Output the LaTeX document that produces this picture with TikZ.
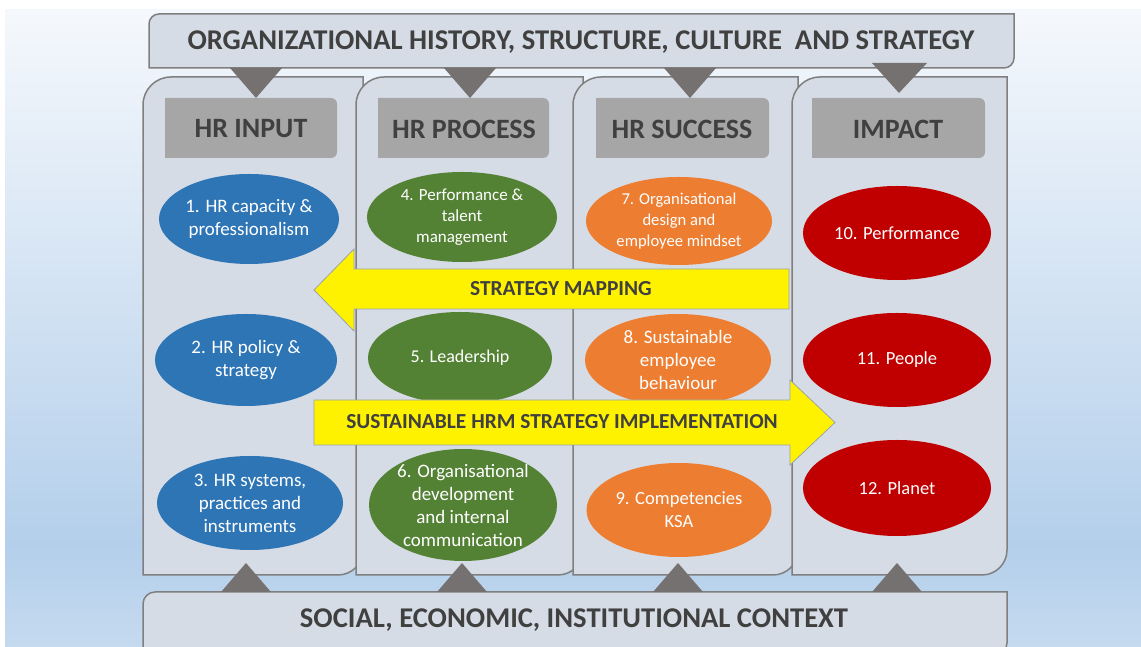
\documentclass[tikz,border=0pt]{standalone}
\usepackage{fontspec}
\setmainfont{Carlito}
\usetikzlibrary{shapes.geometric}

\definecolor{bgtop}{HTML}{F5F8FC}
\definecolor{bgmid}{HTML}{B4CFEB}
\definecolor{bgbot}{HTML}{C5DAEF}
\definecolor{panel}{HTML}{D6DCE5}
\definecolor{edge}{HTML}{7F7F7F}
\definecolor{headfill}{HTML}{A6A6A6}
\definecolor{inktext}{HTML}{404040}
\definecolor{tri}{HTML}{767171}
\definecolor{hrblue}{HTML}{2E75B6}
\definecolor{hrgreen}{HTML}{548235}
\definecolor{hrorange}{HTML}{ED7D31}
\definecolor{hrred}{HTML}{C00000}
\definecolor{arrowedge}{HTML}{9AA3AC}

\pgfdeclareverticalshading{slidebg}{100bp}{color(0bp)=(bgbot); color(25bp)=(bgbot); color(33bp)=(bgmid); color(75bp)=(bgtop); color(100bp)=(bgtop)}

\begin{document}
\begin{tikzpicture}[x=1pt,y=1pt,
  panelbox/.style={fill=panel, draw=edge, line width=1.5pt},
  headbox/.style={fill=headfill},
  headtext/.style={text=inktext, font=\fontsize{28}{32}\selectfont\bfseries, inner sep=0pt},
  bannertext/.style={text=inktext, font=\fontsize{28.6}{32}\selectfont\bfseries, inner sep=0pt},
  pointer/.style={fill=tri},
  oval/.style={ellipse, inner sep=-18pt, text=white, align=center,
    font=\fontsize{19}{23}\selectfont},
  fs/.style 2 args={font=\fontsize{#1}{#2}\selectfont},
  yarrow/.style={fill=yellow, draw=arrowedge, line width=0.8pt, line join=miter},
  arrowtext/.style={text=inktext, font=\fontsize{21.4}{25}\selectfont\bfseries, inner sep=0pt}
]
\useasboundingbox (0,0) rectangle (1141,647);
\clip (0,0) rectangle (1141,647);

% slide background
\fill[white] (0,0) rectangle (1141,647);
\shade[shading=slidebg] (5,0) rectangle (1141,637);

% four columns, each overlapping the one to its left
\foreach \xa/\xb in {143/363, 356/583, 573/798, 792/1007}
  \draw[panelbox] (\xa,72) -- (\xa,542) arc[start angle=180, end angle=90, radius=28]
    -- (\xb,570) -- (\xb,97) arc[start angle=0, end angle=-90, radius=25] -- cycle;

% context banners
\draw[panelbox] (149,579) -- (149,623) arc[start angle=180, end angle=90, radius=10]
  -- (1014,633) -- (1014,589) arc[start angle=0, end angle=-90, radius=10] -- cycle;
\node[bannertext] (org) at (581,605) {ORGANIZATIONAL HISTORY, STRUCTURE, CULTURE \ AND STRATEGY};

\draw[panelbox] (143,-8) -- (143,43) arc[start angle=180, end angle=90, radius=12]
  -- (1007,55) -- (1007,4) arc[start angle=0, end angle=-90, radius=12] -- cycle;
\node[bannertext] (ctx) at (574,27) {SOCIAL, ECONOMIC, INSTITUTIONAL CONTEXT};

% column headers
\foreach \xa/\xb in {165/337, 378/549, 596/769, 812/985}
  \fill[headbox] (\xa,489) -- (\xa,549) -- ({\xb-6},549) arc[start angle=90, end angle=0, radius=6]
    -- (\xb,495) arc[start angle=0, end angle=-90, radius=6] -- cycle;
\node[headtext] (h1) at (251,518) {HR INPUT};
\node[headtext] (h2) at (464,518) {HR PROCESS};
\node[headtext] (h3) at (682,518) {HR SUCCESS};
\node[headtext] (h4) at (898,518) {IMPACT};

% pointers from the banners into the columns
\foreach \cx in {256, 470, 690}
  \fill[pointer] ({\cx-26},579) -- ({\cx+26},579) -- (\cx,549) -- cycle;
\fill[pointer] (872,584) -- (927,584) -- (899,554) -- cycle;
\foreach \cx in {246, 462, 678, 897}
  \fill[pointer] ({\cx-25},55) -- ({\cx+25},55) -- (\cx,84) -- cycle;

% HR input
\node[oval, fill=hrblue, minimum width=180pt, minimum height=90pt] (e1) at (249,428) {1. HR capacity \&\\professionalism};
\node[oval, fill=hrblue, minimum width=182pt, minimum height=92pt] (e2) at (246,287) {2. HR policy \&\\strategy};
\node[oval, fill=hrblue, minimum width=186pt, minimum height=94pt] (e3) at (250,144) {3. HR systems,\\practices and\\instruments};

% HR process
\node[oval, fill=hrgreen, fs={17}{21}, minimum width=190pt, minimum height=90pt] (e4) at (462,430) {4. Performance \&\\talent\\management};
\node[oval, fill=hrgreen, fs={18}{22}, minimum width=184pt, minimum height=92pt] (e5) at (460,289) {5. Leadership};
\node[oval, fill=hrgreen, minimum width=188pt, minimum height=112pt] (e6) at (463,142) {6. Organisational\\development\\and internal\\communication};

% HR success
\node[oval, fill=hrorange, fs={16.6}{21}, minimum width=186pt, minimum height=88pt] (e7) at (679,426) {7. Organisational\\design and\\employee mindset};
\node[oval, fill=hrorange, minimum width=186pt, minimum height=92pt] (e8) at (678,287) {8. Sustainable\\employee\\behaviour};
\node[oval, fill=hrorange, fs={18.6}{23}, minimum width=185pt, minimum height=94pt] (e9) at (679,137) {9. Competencies\\KSA};

% impact
\node[oval, fill=hrred, fs={18.5}{22}, minimum width=188pt, minimum height=94pt] (e10) at (897,414) {10. Performance};
\node[oval, fill=hrred, fs={18.5}{22}, minimum width=188pt, minimum height=94pt] (e11) at (897,287) {11. People};
\node[oval, fill=hrred, fs={18.5}{22}, minimum width=188pt, minimum height=96pt] (e12) at (897,159) {12. Planet};

% strategy arrows
\draw[yarrow] (314,357) -- (354,398) -- (354,378) -- (789,378) -- (789,338) -- (354,338) -- (354,316) -- cycle;
\node[arrowtext] (map) at (561,358) {STRATEGY MAPPING};
\draw[yarrow] (314,247) -- (790,247) -- (790,267) -- (835,224.5) -- (790,182) -- (790,202) -- (314,202) -- cycle;
\node[arrowtext] (impl) at (562,225) {SUSTAINABLE HRM STRATEGY IMPLEMENTATION};
\end{tikzpicture}
\end{document}
